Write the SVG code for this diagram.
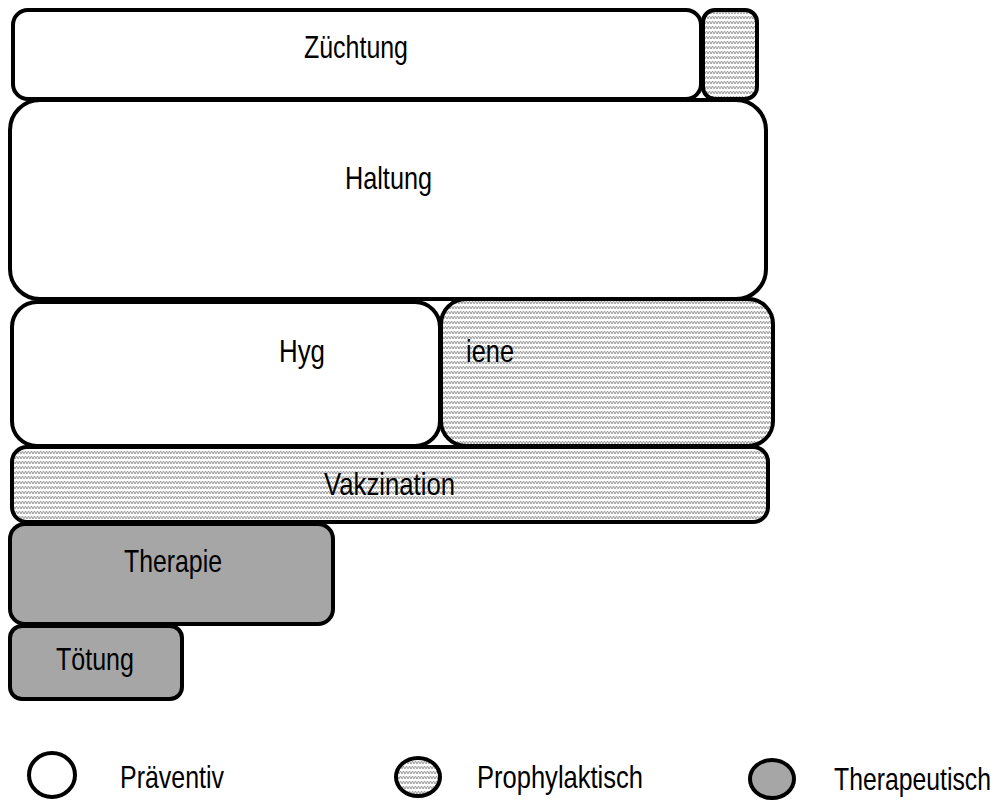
<svg xmlns="http://www.w3.org/2000/svg" width="998" height="801" viewBox="0 0 998 801">
<defs>
<pattern id="zz" width="6" height="5" patternUnits="userSpaceOnUse">
<rect width="6" height="5" fill="#ffffff"/>
<polyline points="0,4 1.5,1 3,4 4.5,1 6,4" fill="none" stroke="#999999" stroke-width="1"/>
</pattern>
<style>
.b{stroke:#000;stroke-width:4;}
.w{fill:#fff;}
.h{fill:url(#zz);}
.g{fill:#a6a6a6;}
text{font-family:"Liberation Sans",Arial,sans-serif;font-size:25px;fill:#000;}
</style>
</defs>
<g id="zuechtung"><rect class="b w" x="13" y="10" width="688" height="89" rx="15"/><text transform="translate(304,58) scale(1,1.24)" textLength="104" lengthAdjust="spacingAndGlyphs">Züchtung</text></g>
<g id="zuechtung-prophylaktisch"><rect class="b h" x="703" y="10" width="54" height="89" rx="12"/></g>
<g id="haltung"><rect class="b w" x="10" y="100" width="756" height="199" rx="30"/><text transform="translate(345,189) scale(1,1.24)" textLength="87" lengthAdjust="spacingAndGlyphs">Haltung</text></g>
<g id="hygiene-praeventiv"><rect class="b w" x="12" y="302" width="428" height="144" rx="25"/><text transform="translate(279,362) scale(1,1.24)" textLength="46" lengthAdjust="spacingAndGlyphs">Hyg</text></g>
<g id="hygiene-prophylaktisch"><rect class="b h" x="441" y="299" width="332" height="147" rx="25"/><text transform="translate(466,362) scale(1,1.24)" textLength="48" lengthAdjust="spacingAndGlyphs">iene</text></g>
<g id="vakzination"><rect class="b h" x="12" y="447" width="756" height="75" rx="15"/><text transform="translate(324,495) scale(1,1.24)" textLength="131" lengthAdjust="spacingAndGlyphs">Vakzination</text></g>
<g id="therapie"><rect class="b g" x="10" y="524" width="323" height="100" rx="15"/><text transform="translate(124,572) scale(1,1.24)" textLength="98" lengthAdjust="spacingAndGlyphs">Therapie</text></g>
<g id="toetung"><rect class="b g" x="10" y="626" width="172" height="73" rx="12"/><text transform="translate(56,670) scale(1,1.24)" textLength="78" lengthAdjust="spacingAndGlyphs">Tötung</text></g>
<g id="legend">
<ellipse class="b w" cx="52" cy="775" rx="23" ry="22"/><text transform="translate(120,788) scale(1,1.24)" textLength="104" lengthAdjust="spacingAndGlyphs">Präventiv</text>
<ellipse class="b h" cx="418" cy="777" rx="22" ry="19"/><text transform="translate(477,788) scale(1,1.24)" textLength="166" lengthAdjust="spacingAndGlyphs">Prophylaktisch</text>
<ellipse class="b g" cx="772" cy="779" rx="22" ry="19"/><text transform="translate(834,790) scale(1,1.24)" textLength="157" lengthAdjust="spacingAndGlyphs">Therapeutisch</text>
</g>
<g id="connectors"></g>
</svg>
